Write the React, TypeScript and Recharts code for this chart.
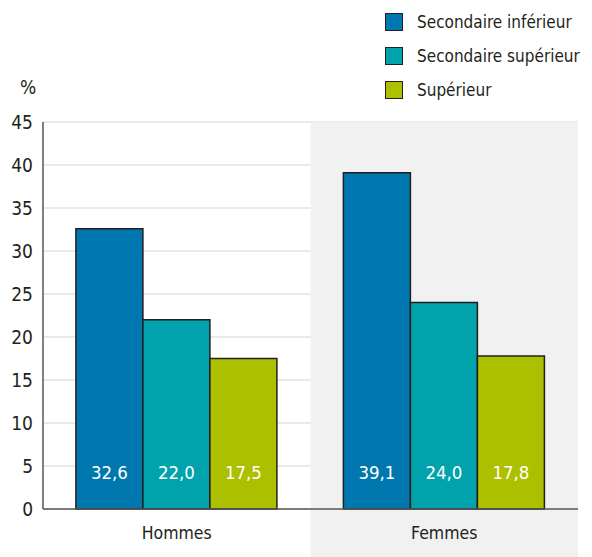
import React from 'react';
import { BarChart, Bar, XAxis, YAxis, CartesianGrid, ReferenceArea, LabelList } from 'recharts';

const categories = ['Hommes', 'Femmes'];
const seriesNames = ['Secondaire inférieur', 'Secondaire supérieur', 'Supérieur'];
const secInf = [32.6, 39.1];
const secSup = [22.0, 24.0];
const sup = [17.5, 17.8];
const yTicks = [0, 5, 10, 15, 20, 25, 30, 35, 40, 45];

const colors = ['#0077ae', '#00a2ab', '#adc000'];
const FONT = "'DejaVu Sans Condensed', sans-serif";
const TEXT = '#231f20';

const data = categories.map((c, i) => ({ cat: c, s0: secInf[i], s1: secSup[i], s2: sup[i] }));

const fmt = (v: number) => v.toFixed(1).replace('.', ',');

const ValueLabel = (props: any) => {
  const { x, y, width, height, value } = props;
  return (
    <text
      x={x + width / 2}
      y={y + height - 37}
      fill="#ffffff"
      fontSize={18.5}
      fontFamily={FONT}
      textAnchor="middle"
      dominantBaseline="central"
    >
      {fmt(value)}
    </text>
  );
};

const GrayShape = (props: any) => {
  const { x, y, width } = props;
  return <rect x={x} y={y} width={width} height={557 - y} fill="#f1f1f1" />;
};

export default function App() {
  return (
    <div style={{ position: 'absolute', left: 0, top: 0, width: 592, height: 557, background: '#fff' }}>
      <BarChart
        width={592}
        height={557}
        data={data}
        margin={{ top: 122, right: 14, bottom: 0, left: 0 }}
        barCategoryGap="12.3%"
        barGap={0}
      >
        <ReferenceArea x1="Femmes" x2="Femmes" y1={0} y2={45} ifOverflow="visible" shape={<GrayShape />} />
        <CartesianGrid vertical={false} stroke="#d4d4d4" strokeWidth={1.2} />
        <XAxis
          dataKey="cat"
          height={48}
          tickSize={0}
          tickMargin={18}
          axisLine={{ stroke: '#555555', strokeWidth: 1.5 }}
          tick={{ fill: TEXT, fontSize: 17.5, fontFamily: FONT }}
        />
        <YAxis
          width={43}
          domain={[0, 45]}
          ticks={yTicks}
          interval={0}
          tickSize={0}
          tickMargin={10}
          axisLine={{ stroke: '#555555', strokeWidth: 1.5 }}
          tick={{ fill: TEXT, fontSize: 19, fontFamily: FONT }}
        />
        {['s0', 's1', 's2'].map((k, i) => (
          <Bar key={k} dataKey={k} name={seriesNames[i]} fill={colors[i]} stroke="#231f20" strokeWidth={1.5} isAnimationActive={false}>
            <LabelList dataKey={k} content={<ValueLabel />} />
          </Bar>
        ))}
      </BarChart>
      <div style={{ position: 'absolute', left: 20, top: 76, fontFamily: FONT, fontSize: 19, color: TEXT }}>%</div>
      <div style={{ position: 'absolute', left: 385, top: 5, fontFamily: FONT, fontSize: 17, color: TEXT }}>
        {seriesNames.map((n, i) => (
          <div key={n} style={{ display: 'flex', alignItems: 'center', height: 34 }}>
            <div style={{ width: 18, height: 18, background: colors[i], border: '1.5px solid #231f20', marginRight: 14, boxSizing: 'border-box', flexShrink: 0 }} />
            <span style={{ whiteSpace: 'nowrap' }}>{n}</span>
          </div>
        ))}
      </div>
    </div>
  );
}
